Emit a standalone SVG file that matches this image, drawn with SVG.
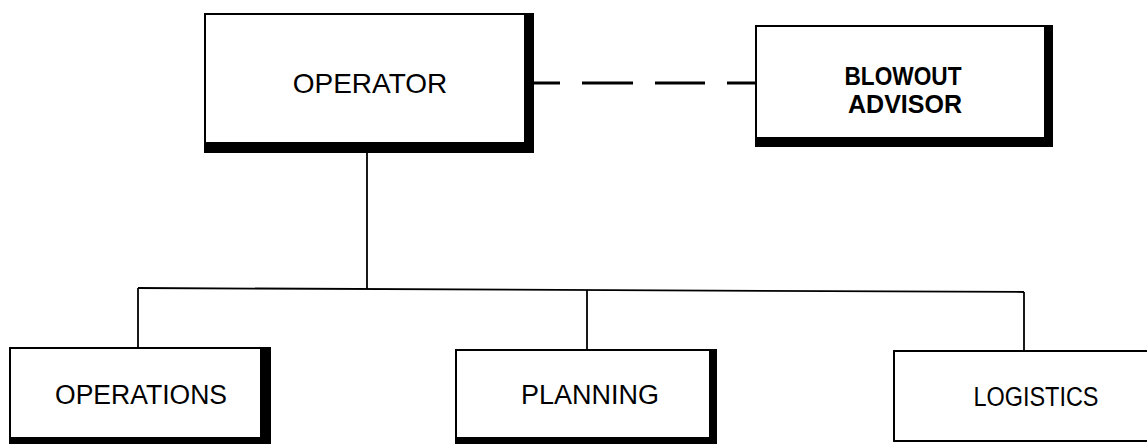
<svg xmlns="http://www.w3.org/2000/svg" width="1147" height="444" viewBox="0 0 1147 444">
<style>
.shadow{fill:#000;stroke:none}
.box{fill:#fff;stroke:#000;stroke-width:2}
.lbl{font-family:"Liberation Sans",Arial,sans-serif;font-size:27px;fill:#000;text-anchor:middle}
.bold{font-weight:bold;font-size:25px}
.conn{fill:none;stroke:#000;stroke-width:1.8}
.dash{fill:none;stroke:#000;stroke-width:3}
</style>
<rect width="1147" height="444" fill="#fff"/>
<g id="connectors">
<path class="conn" d="M367 153 L367 289"/>
<path class="conn" d="M138 288 L1024 292"/>
<path class="conn" d="M138 288 L138 348"/>
<path class="conn" d="M587 290 L587 350"/>
<path class="conn" d="M1024 292 L1024 352"/>
<path class="dash" d="M534 83 L560 83 M582 83 L633 83 M655 83 L705 83 M727 83 L756 83"/>
</g>
<g id="operator">
<rect class="shadow" x="204" y="13" width="330" height="140"/>
<rect class="box" x="205" y="14" width="320" height="129"/>
<text class="lbl" x="370" y="93" style="font-size:28px">OPERATOR</text>
</g>
<g id="blowout-advisor">
<rect class="shadow" x="755" y="25" width="298" height="122"/>
<rect class="box" x="756" y="26" width="289" height="112"/>
<text class="lbl bold" x="903" y="85" textLength="117" lengthAdjust="spacingAndGlyphs">BLOWOUT</text>
<text class="lbl bold" x="905" y="113" textLength="114" lengthAdjust="spacingAndGlyphs">ADVISOR</text>
</g>
<g id="operations">
<rect class="shadow" x="9" y="347" width="262" height="99"/>
<rect class="box" x="10" y="348" width="251" height="90"/>
<text class="lbl" x="141" y="404" textLength="172" lengthAdjust="spacingAndGlyphs">OPERATIONS</text>
</g>
<g id="planning">
<rect class="shadow" x="455" y="349" width="262" height="95"/>
<rect class="box" x="456" y="350" width="254" height="88"/>
<text class="lbl" x="590" y="404">PLANNING</text>
</g>
<g id="logistics">
<rect class="box" x="894" y="351" width="260" height="90"/>
<text class="lbl" x="1036" y="406" textLength="125" lengthAdjust="spacingAndGlyphs">LOGISTICS</text>
</g>
</svg>
